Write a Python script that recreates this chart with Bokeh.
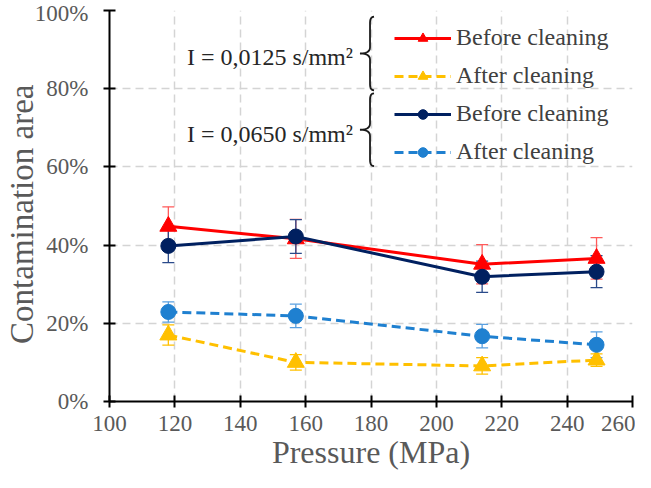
from bokeh.plotting import figure
from bokeh.models import (ColumnDataSource, Whisker, TeeHead, Legend, LegendItem,
                          Label, PrintfTickFormatter, Range1d, PolyAnnotation)
from bokeh.embed import file_html
from bokeh.resources import INLINE

# ---- data ----
pressure = [118, 157, 214, 249]
before_0125 = [44.8, 41.6, 35.1, 36.6]
before_0125_err = [5.0, 5.0, 5.0, 5.3]
after_0125 = [17.0, 10.0, 9.1, 10.6]
after_0125_err = [2.6, 2.0, 2.1, 1.6]
before_0650 = [39.8, 42.2, 31.9, 33.2]
before_0650_err = [4.3, 4.3, 4.0, 4.1]
after_0650 = [22.9, 21.9, 16.7, 14.5]
after_0650_err = [2.6, 3.0, 3.0, 3.3]
x_ticks = [100, 120, 140, 160, 180, 200, 220, 240, 260]
y_ticks = [0, 20, 40, 60, 80, 100]
series_labels = ["Before cleaning", "After cleaning", "Before cleaning", "After cleaning"]
group_labels = ["I = 0,0125  s/mm²", "I = 0,0650  s/mm²"]
x_title = "Pressure (MPa)"
y_title = "Contamination area\u2002"

SERIF = "Liberation Serif"
W, H = 635, 472
X0, X1, Y0, Y1 = 100, 260, 0, 100

p = figure(width=W, height=H, x_range=Range1d(X0, X1), y_range=Range1d(Y0, Y1),
           output_backend="svg", toolbar_location=None,
           min_border_left=102, min_border_right=3, min_border_top=10, min_border_bottom=60)
p.outline_line_color = None
p.background_fill_color = "white"

for g in (p.xgrid, p.ygrid):
    g.grid_line_color = "#D4D4D4"
    g.grid_line_dash = "8 5"
    g.grid_line_width = 1.5

p.xaxis.ticker = x_ticks
p.yaxis.ticker = y_ticks
p.yaxis.formatter = PrintfTickFormatter(format="%d%%")
for ax in (p.xaxis, p.yaxis):
    ax.axis_line_color = "black"
    ax.axis_line_width = 2
    ax.major_tick_line_color = "black"
    ax.major_tick_line_width = 2
    ax.major_tick_in = 6
    ax.major_tick_out = 6
    ax.minor_tick_line_color = None
    ax.major_label_text_font = SERIF
    ax.major_label_text_font_size = "23px"
    ax.major_label_text_color = "#595959"
    ax.axis_label_text_font = SERIF
    ax.axis_label_text_font_style = "normal"
    ax.axis_label_text_color = "#595959"
p.xaxis.axis_label = x_title
p.yaxis.axis_label = y_title
p.xaxis.axis_label_text_font_size = "32px"
p.yaxis.axis_label_text_font_size = "33px"
p.xaxis.major_label_standoff = 8
p.yaxis.major_label_standoff = 15
p.xaxis.axis_label_standoff = 0
p.yaxis.axis_label_standoff = -8

specs = [
    (before_0125, before_0125_err, "#FF0000", "solid", "triangle", "#FF5A5A"),
    (after_0125, after_0125_err, "#FFC000", "9 5", "triangle", "#FFC000"),
    (before_0650, before_0650_err, "#002060", "solid", "circle", "#2A4A8A"),
    (after_0650, after_0650_err, "#1F80D0", "9 5", "circle", "#5AA0E0"),
]

items = []
for (vals, errs, color, dash, marker, ecolor), lab in zip(specs, series_labels):
    src = ColumnDataSource(dict(x=pressure, y=vals,
                                upper=[v + e for v, e in zip(vals, errs)],
                                lower=[v - e for v, e in zip(vals, errs)]))
    w = Whisker(source=src, base="x", upper="upper", lower="lower",
                line_color=ecolor, line_width=1.3,
                upper_head=TeeHead(size=12, line_color=ecolor, line_width=1.3),
                lower_head=TeeHead(size=12, line_color=ecolor, line_width=1.3))
    p.add_layout(w)
    rl = p.line("x", "y", source=src, line_color=color, line_width=3, line_dash=dash)
    rs = p.scatter("x", "y", source=src, marker=marker, size=15 if marker == "circle" else 17,
                   fill_color=color, line_color=color)
    items.append(LegendItem(label=lab, renderers=[rl, rs]))

legend = Legend(items=items, location="top_right", margin=14, padding=0,
                spacing=11, glyph_width=57, glyph_height=24, label_standoff=5,
                label_width=162,
                label_text_font=SERIF, label_text_font_size="24px",
                label_text_color="#404040", background_fill_alpha=0,
                border_line_alpha=0)
p.add_layout(legend)

# ---- group notes with curly braces (decoration, placed in plot units) ----
PX = (X1 - X0) / 522.0   # x units per pixel (nominal)
PY = (Y1 - Y0) / 386.0   # y units per pixel (nominal)


def brace_path(xb, ytop, ybot, tip=10, hook=4, r=6, n=6):
    """Curly brace outline; xb, ytop, ybot in plot units, sizes in pixels."""
    ym = (ytop + ybot) / 2
    pts = []

    def quad(a, c, b):
        for k in range(n + 1):
            t = k / n
            pts.append(((1 - t) ** 2 * a[0] + 2 * (1 - t) * t * c[0] + t ** 2 * b[0],
                        (1 - t) ** 2 * a[1] + 2 * (1 - t) * t * c[1] + t ** 2 * b[1]))
    quad((xb + hook * PX, ytop), (xb, ytop), (xb, ytop - r * PY))
    quad((xb, ym + r * PY), (xb, ym), (xb - tip * PX, ym))
    quad((xb - tip * PX, ym), (xb, ym), (xb, ym - r * PY))
    quad((xb, ybot + r * PY), (xb, ybot), (xb + hook * PX, ybot))
    path = pts + pts[::-1]
    return [q[0] for q in path], [q[1] for q in path]


group_spans = [(98.4, 79.6), (78.8, 60.2)]
for txt, (ytop, ybot) in zip(group_labels, group_spans):
    ym = (ytop + ybot) / 2
    p.add_layout(Label(x=150, y=ym - 1.0, text=txt, text_align="center",
                       text_baseline="middle",
                       text_font=SERIF, text_font_size="24px", text_color="#262626"))
    bx, by = brace_path(179.7, ytop, ybot)
    p.add_layout(PolyAnnotation(xs=bx, ys=by, fill_alpha=0, line_color="#1A1A1A",
                                line_alpha=1.0, line_width=1.8))

open("out.html", "w").write(file_html(p, INLINE))
